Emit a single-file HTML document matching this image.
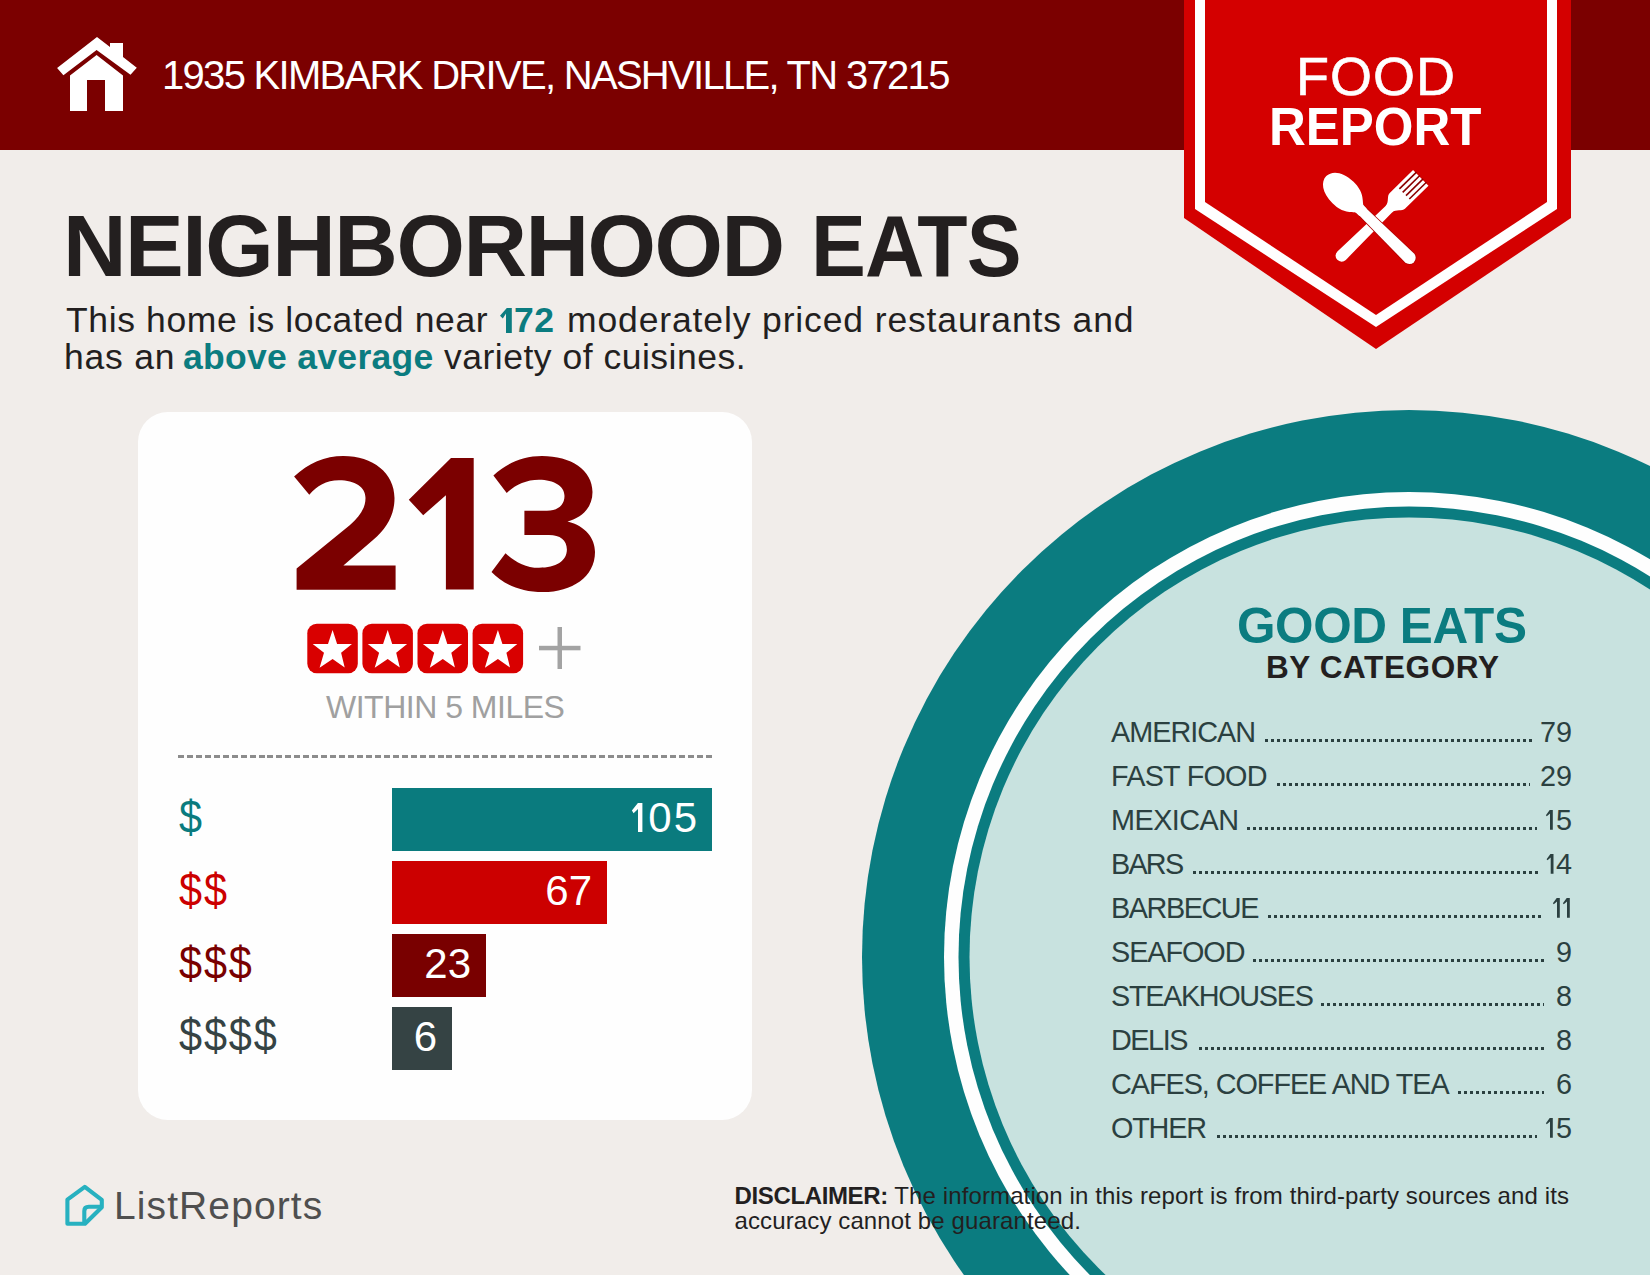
<!DOCTYPE html>
<html><head><meta charset="utf-8">
<style>
html,body{margin:0;padding:0;}
body{width:1650px;height:1275px;position:relative;overflow:hidden;background:#f1edea;font-family:"Liberation Sans",sans-serif;}
.a{position:absolute;line-height:1;white-space:nowrap;}
#hdr{position:absolute;left:0;top:0;width:1650px;height:150px;background:#7b0000;}
#addr{left:162px;top:55px;font-size:40px;letter-spacing:-1.7px;color:#fff;}
#h1{left:63px;top:202px;font-size:88px;letter-spacing:-1.47px;font-weight:bold;color:#231f1f;}
#h1b{left:811px;top:202px;font-size:88px;letter-spacing:-1px;transform:scaleX(0.935);transform-origin:0 0;font-weight:bold;color:#231f1f;}
.p{left:66px;font-size:35.5px;color:#231f1f;}
.tl{color:#0b7c80;font-weight:bold;}
#card{position:absolute;left:138px;top:412px;width:614px;height:708px;background:#fefefe;border-radius:30px;}
#within{left:326px;top:691px;font-size:32px;letter-spacing:-0.5px;color:#a0a0a0;}
#dash{position:absolute;left:178px;top:755px;width:534px;height:3px;background:repeating-linear-gradient(90deg,#8c8c8c 0 6px,transparent 6px 8.95px);}
.bar{position:absolute;left:392px;height:63px;}
.bn{position:absolute;right:15px;top:9px;font-size:42px;color:#fff;line-height:1;}
.dl{left:179px;font-size:46px;letter-spacing:2.1px;transform:scaleX(0.9);transform-origin:0 0;}
#circ{position:absolute;left:863px;top:412px;width:1082px;height:1082px;border-radius:50%;background:#0b7c80;}
#ring{position:absolute;left:944px;top:493px;width:920px;height:920px;border-radius:50%;background:#fefefe;}
#ring2{position:absolute;left:959px;top:508px;width:890px;height:890px;border-radius:50%;background:#0b7c80;}
#inner{position:absolute;left:970px;top:519px;width:868px;height:868px;border-radius:50%;background:#c8e2df;}
#ge{left:1237px;top:601px;font-size:49.5px;letter-spacing:-0.43px;font-weight:bold;color:#0b7c80;}
#bc{left:1266px;top:652px;font-size:31.5px;letter-spacing:0.6px;font-weight:bold;color:#231f1f;}
.rl{left:1111px;font-size:28.8px;color:#2b4040;}
.rn{right:78px;font-size:28.8px;color:#2b4040;}
.dots{position:absolute;height:3px;background:repeating-linear-gradient(90deg,#2b4040 0 3px,transparent 3px 6px);}
#lr{left:114px;top:1186px;font-size:39px;letter-spacing:1.1px;color:#4f4f4f;}
.disc{left:734.5px;font-size:24px;letter-spacing:0.12px;color:#231f1f;}
.disc b{letter-spacing:-0.36px;}
</style></head><body>
<div id="hdr"></div>
<svg class="a" style="left:0;top:0" width="160" height="150" viewBox="0 0 160 150">
<polygon fill="#fff" points="97,37 110,47 110,43 123,43 123,57.1 136.8,67.8 130.5,74.8 96.6,50 63.4,75.2 57.1,68.1"/>
<polygon fill="#fff" points="96.6,55 123,75.4 123,111 105,111 105,80 87,80 87,111 70,111 70,75.4"/>
</svg>
<div class="a" id="addr">1935 KIMBARK DRIVE, NASHVILLE, TN 37215</div>

<svg class="a" style="left:850px;top:400px" width="800" height="875" viewBox="850 400 800 875">
<circle cx="1409" cy="957" r="547" fill="#0b7c80"/>
<circle cx="1409" cy="957" r="465" fill="#fefefe"/>
<circle cx="1409" cy="957" r="450.5" fill="#0b7c80"/>
<circle cx="1409" cy="957" r="439.5" fill="#c8e2df"/>
</svg>

<svg class="a" style="left:1150px;top:0" width="450" height="360" viewBox="1150 0 450 360">
<polygon fill="#d40000" points="1184,0 1571,0 1571,218 1376,349 1184,218"/>
<polygon fill="#fff" points="1195,0 1557,0 1557,209 1376,327 1195,209"/>
<polygon fill="#d40000" points="1205,0 1547,0 1547,202 1376,315 1205,202"/>
</svg>
<div class="a" style="left:1296px;top:49px;font-size:54px;letter-spacing:1px;-webkit-text-stroke:0.6px #fff;color:#fff">FOOD</div>
<div class="a" style="left:1269px;top:99px;font-size:54px;transform:scaleX(0.944);transform-origin:0 0;font-weight:bold;color:#fff">REPORT</div>

<svg class="a" style="left:1300px;top:160px" width="150" height="120" viewBox="1300 160 150 120">
<g transform="translate(1373,222) rotate(-44.5)" fill="#fff">
<path d="M -46,-4 A 6,6 0 0 0 -46,8 L 22,6.5 L 22,-2.5 Z"/>
<path d="M 20,-2.5 C 26,-3 28,-9 32,-9 L 65,-9 L 65,13 L 32,13 C 28,13 26,7 20,6.5 Z"/>
<g fill="#8a0000"><rect x="42" y="-5.88" width="24" height="1.6"/><rect x="42" y="-1.16" width="24" height="1.6"/><rect x="42" y="3.56" width="24" height="1.6"/><rect x="42" y="8.28" width="24" height="1.6"/></g>
</g>
<g transform="translate(1373,222) rotate(44.5)" fill="#fff">
<path d="M -20,-4.8 L 51,-6.3 A 6.3,6.3 0 0 1 51,6.3 L -20,4.8 Z" stroke="#b00000" stroke-width="1.6" paint-order="stroke"/>
<path d="M -30,-5.6 L -14,-5.2 L -14,5.2 L -30,5.6 Z"/>
<path d="M -18,-4.8 C -23,-8 -27,-15 -42,-15 C -57,-15 -65.5,-8 -65.5,0 C -65.5,8 -57,15 -42,15 C -27,15 -23,8 -18,4.8 Z"/>
</g>
</svg>
<div class="a" id="h1">NEIGHBORHOOD</div>
<div class="a" id="h1b">EATS</div>
<div class="a p" id="pA" style="top:303px;left:66px;letter-spacing:0.63px">This home is located near</div>
<div class="a p tl" id="pB" style="top:303px;left:514px;letter-spacing:0.5px">72</div>
<svg class="a" style="left:495px;top:305px" width="20" height="30" viewBox="495 305 20 30"><polygon fill="#0b7c80" points="500,315.8 506.8,308 511.8,308 511.8,333 506,333 506,313.6 502.8,318.6"/></svg>
<div class="a p" id="pC" style="top:303px;left:567px;letter-spacing:0.87px">moderately priced restaurants and</div>
<div class="a p" id="pD" style="top:340px;left:64px;letter-spacing:0.8px">has an</div>
<div class="a p tl" id="pE" style="top:340px;left:183px;letter-spacing:0.3px">above average</div>
<div class="a p" id="pF" style="top:340px;left:444px;letter-spacing:0.5px">variety of cuisines.</div>


<div id="card"></div>
<svg class="a" style="left:280px;top:445px" width="330" height="160" viewBox="280 445 330 160"><g fill="#7b0000">
<path d="M 294.1,476.6 C 308,463 325,455.9 343.4,455.9 C 373,455.9 394.5,473 394.5,498 C 394.5,515 387,528 373,540 L 343.4,565.4 L 395.6,565.4 L 395.6,589.7 L 296.6,589.7 L 296.6,568.4 L 350,525 C 360,516 365.5,508 365.5,498 C 365.5,487 355,480.3 339,480.3 C 326,480.3 317,486 309.3,494.8 Z"/>
<polygon points="408.8,499.8 451,458.1 473.7,458.1 473.7,589.4 445.9,589.4 445.9,495.2 423.2,515.2"/>
<path d="M 493.4,475.4 C 507,463 523,455.9 542,455.9 C 571,455.9 592.5,470 592.5,492 C 592.5,507 583,517 567.5,521.6 C 586,526 595,539 595,552 C 595,577 572,592.1 543,592.1 C 520,592.1 503,584 491.5,572.1 L 505.5,553.2 C 514,561 525,567.8 539,567.8 C 556,567.8 566.9,561 566.9,549.6 C 566.9,540 560,535 549,535 L 524.4,535 L 524.4,510.7 L 547,510.7 C 558,510.7 564.5,505 564.5,496 C 564.5,486 554,479.7 539,479.7 C 526,479.7 515,485 506.7,493 Z"/>
</g></svg>
<svg class="a" style="left:300px;top:615px" width="300" height="70" viewBox="300 615 300 70">
<defs><g id="st"><rect x="0" y="0" width="50.5" height="49.5" rx="9.5" fill="#d90000"/><polygon fill="#fff" points="25.3,6.2 29.8,20.3 44.7,20.3 33.8,29.1 37.4,43.8 25.3,35.3 12.3,44 16.7,29.1 5.4,20.4 20.7,20.3"/></g></defs>
<use href="#st" x="307.3" y="623.7"/><use href="#st" x="362.4" y="623.7"/><use href="#st" x="417.5" y="623.7"/><use href="#st" x="472.6" y="623.7"/>
<rect x="539" y="645.8" width="41.5" height="4.5" fill="#a3a3a3"/><rect x="557.5" y="627" width="4.5" height="42" fill="#a3a3a3"/>
</svg>
<div class="a" id="within">WITHIN 5 MILES</div>
<div id="dash"></div>

<div class="bar" style="top:788px;width:320px;background:#0a7b7e"><span class="bn" style="right:13px;letter-spacing:2px">05</span></div>
<svg class="a" style="left:625px;top:798px" width="25" height="40" viewBox="625 798 25 40"><polygon fill="#fff" points="631.9,810.4 637.9,803 642.4,803 642.4,831.9 638,831.9 638,809 633.6,813.2"/></svg>
<div class="bar" style="top:861px;width:215px;background:#cc0000"><span class="bn">67</span></div>
<div class="bar" style="top:934px;width:94px;background:#790000"><span class="bn">23</span></div>
<div class="bar" style="top:1007px;width:60px;background:#354344"><span class="bn">6</span></div>
<div class="a dl" style="top:793.6px;color:#0a7b7e">$</div>
<div class="a dl" style="top:866.5px;color:#cc0000">$$</div>
<div class="a dl" style="top:939.5px;color:#790000">$$$</div>
<div class="a dl" style="top:1012px;color:#354344">$$$$</div>

<div class="a" id="ge">GOOD EATS</div>
<div class="a" id="bc">BY CATEGORY</div>

<div class="a rl" style="top:718px;letter-spacing:-0.99px">AMERICAN</div><div class="dots" style="left:1265.2px;top:738.7px;width:266.8px"></div><div class="a rn" style="top:718px">79</div>
<div class="a rl" style="top:762px;letter-spacing:-0.77px">FAST FOOD</div><div class="dots" style="left:1276.8px;top:782.7px;width:253.2px"></div><div class="a rn" style="top:762px">29</div>
<div class="a rl" style="top:806px;letter-spacing:-0.53px">MEXICAN</div><div class="dots" style="left:1247.2px;top:826.7px;width:289.9px"></div><div class="a rn" style="top:806px">5</div>
<div class="a rl" style="top:850px;letter-spacing:-1.77px">BARS</div><div class="dots" style="left:1193px;top:870.7px;width:345.2px"></div><div class="a rn" style="top:850px">4</div>
<div class="a rl" style="top:894px;letter-spacing:-1.44px">BARBECUE</div><div class="dots" style="left:1267.7px;top:914.7px;width:276.1px"></div>
<div class="a rl" style="top:938px;letter-spacing:-1.05px">SEAFOOD</div><div class="dots" style="left:1253.3px;top:958.7px;width:290.4px"></div><div class="a rn" style="top:938px">9</div>
<div class="a rl" style="top:982px;letter-spacing:-1.32px">STEAKHOUSES</div><div class="dots" style="left:1320.8px;top:1002.7px;width:222.9px"></div><div class="a rn" style="top:982px">8</div>
<div class="a rl" style="top:1026px;letter-spacing:-1.45px">DELIS</div><div class="dots" style="left:1199.2px;top:1046.7px;width:344.5px"></div><div class="a rn" style="top:1026px">8</div>
<div class="a rl" style="top:1070px;letter-spacing:-1.04px">CAFES, COFFEE AND TEA</div><div class="dots" style="left:1457.9px;top:1090.7px;width:85.8px"></div><div class="a rn" style="top:1070px">6</div>
<div class="a rl" style="top:1114px;letter-spacing:-1.20px">OTHER</div><div class="dots" style="left:1217.2px;top:1134.7px;width:319.9px"></div><div class="a rn" style="top:1114px">5</div>
<svg class="a" style="left:1540px;top:800px" width="40" height="430" viewBox="1540 800 40 430"><g fill="#2b4040"><polygon points="1545.9,815.2 1549.7,810.0 1552.8,810.0 1552.8,829.7 1550.0,829.7 1550.0,813.4 1546.8,816.3"/><polygon points="1546.6,859.2 1550.4,854.0 1553.5,854.0 1553.5,873.7 1550.7,873.7 1550.7,857.4 1547.5,860.3"/><polygon points="1552.9,903.2 1556.7,898.0 1559.8,898.0 1559.8,917.7 1557.0,917.7 1557.0,901.4 1553.8,904.3"/><polygon points="1562.9,903.2 1566.7,898.0 1569.8,898.0 1569.8,917.7 1567.0,917.7 1567.0,901.4 1563.8,904.3"/><polygon points="1545.9,1123.2 1549.7,1118.0 1552.8,1118.0 1552.8,1137.7 1550.0,1137.7 1550.0,1121.4 1546.8,1124.3"/></g></svg>
<svg class="a" style="left:55px;top:1175px" width="60" height="60" viewBox="55 1175 60 60"><g fill="none" stroke="#27b1c0" stroke-width="4.1" stroke-linejoin="round" stroke-linecap="round">
<path d="M84.8,1186.8 L67.4,1199.6 L67.4,1223.8 L85,1223.8 L101.8,1207.2 L101.8,1199.8 Z"/>
<path d="M84.3,1223 L84.3,1211 Q84.3,1206.8 88.8,1206.8 L100,1206.8"/></g></svg>
<div class="a" id="lr">ListReports</div>
<div class="a disc" style="top:1184.4px"><b>DISCLAIMER:</b> The information in this report is from third-party sources and its</div>
<div class="a disc" style="top:1209.2px">accuracy cannot be guaranteed.</div>
</body></html>
